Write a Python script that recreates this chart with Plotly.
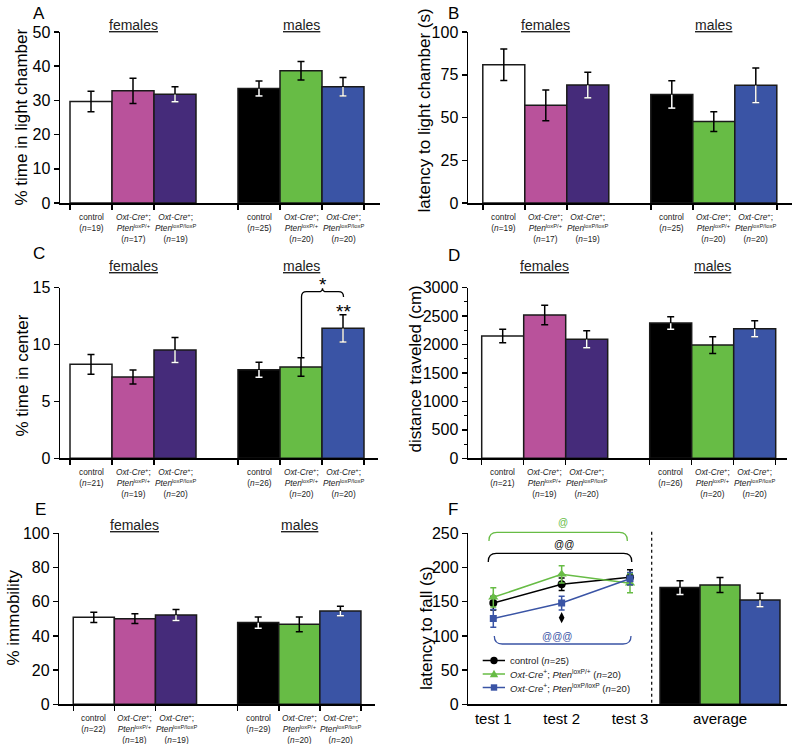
import plotly.graph_objects as go

W, H = 800, 744
FONT = "Liberation Sans, Arial, Helvetica, sans-serif"
INK = "#1a1a1a"

# ---------------- data ----------------
bar_pos = [0, 1, 2, 4, 5, 6]
bar_colors = ["#FFFFFF", "#B9529B", "#452B7A", "#000000", "#67BC45", "#3A54A5"]
lower_white = [False, False, True, True, False, True]
sex_labels = ["females", "males"]
geno_lines = [
    ["control"],
    ["<i>Oxt-Cre</i><sup>+</sup>;", "<i>Pten</i><sup>loxP/+</sup>"],
    ["<i>Oxt-Cre</i><sup>+</sup>;", "<i>Pten</i><sup>loxP/loxP</sup>"],
] * 2

A_mean = [29.7, 32.8, 31.8, 33.5, 38.7, 34.0]
A_sem = [3.0, 3.7, 2.2, 2.2, 2.7, 2.7]
A_n = [19, 17, 19, 25, 20, 20]

B_mean = [80.9, 57.1, 69.0, 63.5, 47.6, 68.8]
B_sem = [9.2, 9.0, 7.5, 8.0, 5.8, 10.1]
B_n = [19, 17, 19, 25, 20, 20]

C_mean = [8.26, 7.15, 9.52, 7.79, 8.03, 11.43]
C_sem = [0.86, 0.62, 1.1, 0.66, 0.82, 1.2]
C_n = [21, 19, 20, 26, 20, 20]

D_mean = [2150, 2520, 2092, 2379, 1992, 2279]
D_sem = [120, 170, 150, 111, 147, 140]
D_n = [21, 19, 20, 26, 20, 20]

E_mean = [50.9, 50.1, 52.2, 47.8, 46.8, 54.6]
E_sem = [3.0, 2.8, 3.2, 3.3, 4.3, 2.8]
E_n = [22, 18, 19, 29, 20, 20]

F_tests = ["test 1", "test 2", "test 3"]
F_ctrl = [148.0, 175.5, 185.7]
F_ctrl_sem = [10, 9, 11]
F_het = [156.4, 190.0, 177.0]
F_het_sem = [14, 12.6, 14]
F_hom = [125.5, 148.0, 183.6]
F_hom_sem = [13, 10, 9]
F_n = [25, 20, 20]
F_avg_label = "average"
F_avg = [170.6, 174.5, 152.5]
F_avg_sem = [10, 11, 10]
F_avg_colors = ["#000000", "#67BC45", "#3A54A5"]
F_avg_lower_white = [True, False, True]
F_diamond = ("test 2", 126.6)


def px_x(px):
    return px / W


def px_y(py):
    return 1 - py / H


panels = [
    dict(k=1, letter="A", mean=A_mean, sem=A_sem, n=A_n, ymax=50, dtick=10,
         title="% time in light chamber", x0=60, x1=380, yt=32, yb=203, c0=91, u=42,
         title_xy=(21, 117.5), letter_xy=(39, 14), sex_y=25),
    dict(k=2, letter="B", mean=B_mean, sem=B_sem, n=B_n, ymax=100, dtick=25,
         title="latency to light chamber (s)", x0=468, x1=792, yt=32, yb=203, c0=503.8, u=42,
         title_xy=(424.5, 111), letter_xy=(453, 14), sex_y=25),
    dict(k=3, letter="C", mean=C_mean, sem=C_sem, n=C_n, ymax=15, dtick=5,
         title="% time in center", x0=60, x1=378, yt=287.7, yb=458.3, c0=91, u=42,
         title_xy=(21.5, 376), letter_xy=(39, 254), sex_y=266),
    dict(k=4, letter="D", mean=D_mean, sem=D_sem, n=D_n, ymax=3000, dtick=500, minor=250,
         title="distance traveled (cm)", x0=468, x1=787, yt=287.7, yb=458.3, c0=502.7, u=42,
         title_xy=(414.5, 369), letter_xy=(454, 255), sex_y=266.5),
    dict(k=5, letter="E", mean=E_mean, sem=E_sem, n=E_n, ymax=100, dtick=20,
         title="% immobility", x0=59.3, x1=375, yt=533.3, yb=704.3, c0=93.8, u=41.1,
         title_xy=(12.5, 618), letter_xy=(40, 510), sex_y=525),
]

fig = go.Figure()
annotations = []
shapes = []


def txt(text, x, y, size, color="black", xanchor="center", yanchor="middle", **kw):
    d = dict(text=text, x=x, y=y, xref="paper", yref="paper", showarrow=False,
             xanchor=xanchor, yanchor=yanchor, font=dict(size=size, color=color))
    d.update(kw)
    return d


def refs(k):
    return ("x" if k == 1 else f"x{k}"), ("y" if k == 1 else f"y{k}")


def add_white_lower(xs, means, sems, flags, cw, xa, ya):
    lx, ly = [], []
    for x, m, s, f in zip(xs, means, sems, flags):
        if not f:
            continue
        lx += [x, x, None, x - cw, x + cw, None]
        ly += [m - 0.002 * m, m - s, None, m - s, m - s, None]
    fig.add_trace(go.Scatter(x=lx, y=ly, mode="lines", xaxis=xa, yaxis=ya,
                             line=dict(color="white", width=1.5), showlegend=False,
                             hoverinfo="skip"))


axis_line = dict(showline=True, linecolor="black", linewidth=1.5, showgrid=False,
                 zeroline=False, fixedrange=True, automargin=False)
TICKFONT = dict(size=16, color="black", family=FONT)

for p in panels:
    k = p["k"]
    xa, ya = refs(k)
    u, c0 = p["u"], p["c0"]
    fig.add_trace(go.Bar(
        x=bar_pos, y=p["mean"], width=1, xaxis=xa, yaxis=ya,
        marker=dict(color=bar_colors, line=dict(color=INK, width=1.5)),
        error_y=dict(type="data", array=p["sem"], color="black", thickness=1.5, width=3.5),
        showlegend=False, hoverinfo="skip"))
    add_white_lower(bar_pos, p["mean"], p["sem"], lower_white, 3.5 / u, xa, ya)

    xname = "xaxis" if k == 1 else f"xaxis{k}"
    yname = "yaxis" if k == 1 else f"yaxis{k}"
    edges = sorted(set([b - 0.5 for b in bar_pos] + [bar_pos[-1] + 0.5]))
    fig.update_layout(**{
        xname: dict(axis_line, domain=[px_x(p["x0"]), px_x(p["x1"])], anchor=ya,
                    range=[(p["x0"] - c0) / u, (p["x1"] - c0) / u],
                    tickvals=edges, showticklabels=False, ticks="outside",
                    ticklen=5, tickwidth=1.5, tickcolor="black"),
        yname: dict(axis_line, domain=[px_y(p["yb"]), px_y(p["yt"])], anchor=xa,
                    range=[0, p["ymax"]], dtick=p["dtick"], ticks="outside", ticklen=5,
                    tickwidth=1.5, tickcolor="black", tickfont=TICKFONT,
                    minor=(dict(dtick=p["minor"], ticks="outside", ticklen=3,
                                tickwidth=1, tickcolor="black") if p.get("minor") else None)),
    })
    tx, ty = p["title_xy"]
    annotations.append(txt(p["title"], px_x(tx), px_y(ty), 17, textangle=-90))
    lx, ly = p["letter_xy"]
    annotations.append(txt(p["letter"], px_x(lx), px_y(ly), 17))
    for i, s in enumerate(sex_labels):
        annotations.append(dict(text=f"<u>{s}</u>", x=bar_pos[1 + 3 * i], y=px_y(p["sex_y"]),
                                xref=xa, yref="paper", showarrow=False, xanchor="center",
                                yanchor="middle", font=dict(size=14, color="#222")))
    for bx, lines, n in zip(bar_pos, geno_lines, p["n"]):
        rows = lines + [f"(<i>n</i>={n})"]
        annotations.append(dict(text="<br>".join(rows), x=bx, y=px_y(p["yb"] + 7),
                                xref=xa, yref="paper", showarrow=False, xanchor="center",
                                yanchor="top", align="center",
                                font=dict(size=8.3, color="#222")))

# ---------------- panel F ----------------
FX0, FXD, FX1 = 468.3, 651.7, 786.7
FYT, FYB = 533.3, 704.3
step = 68.35
fig.update_layout(
    xaxis6=dict(axis_line, domain=[px_x(FX0), px_x(FXD)], anchor="y6", type="category",
                range=[-(493.3 - FX0) / step, 2 + (FXD - 630) / step],
                tickfont=dict(size=15, color="black"), ticks=""),
    xaxis7=dict(axis_line, domain=[px_x(FXD), px_x(FX1)], anchor="y6",
                range=[-(680 - FXD) / 40, 2 + (FX1 - 760) / 40],
                tickvals=[1], ticktext=[F_avg_label], ticks="",
                tickfont=dict(size=15, color="black")),
    yaxis6=dict(axis_line, domain=[px_y(FYB), px_y(FYT)], anchor="x6", range=[0, 250],
                dtick=50, ticks="outside", ticklen=5, tickwidth=1.5, tickcolor="black",
                tickfont=TICKFONT),
)
annotations.append(txt("latency to fall (s)", px_x(426), px_y(628), 17, textangle=-90))
annotations.append(txt("F", px_x(453), px_y(510), 17))

series = [
    ("control (<i>n</i>={})", F_ctrl, F_ctrl_sem, "#000000", "circle", 8),
    ("<i>Oxt-Cre</i><sup>+</sup>; <i>Pten</i><sup>loxP/+</sup> (<i>n</i>={})", F_het, F_het_sem,
     "#67BC45", "triangle-up", 9),
    ("<i>Oxt-Cre</i><sup>+</sup>; <i>Pten</i><sup>loxP/loxP</sup> (<i>n</i>={})", F_hom, F_hom_sem,
     "#3A54A5", "square", 7),
]
for (name, ys, es, col, sym, sz), n in zip(series, F_n):
    fig.add_trace(go.Scatter(
        x=F_tests, y=ys, xaxis="x6", yaxis="y6", mode="lines+markers", name=name.format(n),
        line=dict(color=col, width=1.5), marker=dict(symbol=sym, size=sz, color=col),
        error_y=dict(type="data", array=es, color=col, thickness=1.5, width=3),
        showlegend=False, hoverinfo="skip"))

fig.add_trace(go.Scatter(x=[F_diamond[0]], y=[F_diamond[1]], xaxis="x6", yaxis="y6",
                         mode="markers", marker=dict(symbol="diamond-tall", size=8, color="black"),
                         showlegend=False, hoverinfo="skip"))

avg_pos = list(range(len(F_avg)))
fig.add_trace(go.Bar(x=avg_pos, y=F_avg, width=1, xaxis="x7", yaxis="y6",
                     marker=dict(color=F_avg_colors, line=dict(color=INK, width=1.5)),
                     error_y=dict(type="data", array=F_avg_sem, color="black", thickness=1.5,
                                  width=3.5),
                     showlegend=False, hoverinfo="skip"))
add_white_lower(avg_pos, F_avg, F_avg_sem, F_avg_lower_white, 3.5 / 40, "x7", "y6")

shapes.append(dict(type="line", xref="paper", yref="paper", x0=px_x(FXD), x1=px_x(FXD),
                   y0=px_y(531.7), y1=px_y(FYB), line=dict(color="black", width=1.2, dash="dot")))


def P(x, y):
    return f"{px_x(x):.5f},{px_y(y):.5f}"


def bracket(xl, xr, yh, ye_l, ye_r, color, r=6, peak=None):
    """Bracket drawn in pixel coordinates, converted to a paper path."""
    sl = 1 if ye_l > yh else -1
    sr = 1 if ye_r > yh else -1
    d = f"M{P(xl, ye_l)} L{P(xl, yh + sl * r)} Q{P(xl, yh)} {P(xl + r, yh)} "
    if peak is not None:
        pxm, pd = peak
        d += f"L{P(pxm - 4, yh)} Q{P(pxm, yh)} {P(pxm, yh - pd)} Q{P(pxm, yh)} {P(pxm + 4, yh)} "
    d += f"L{P(xr - r, yh)} Q{P(xr, yh)} {P(xr, yh + sr * r)} L{P(xr, ye_r)}"
    return dict(type="path", path=d, xref="paper", yref="paper",
                line=dict(color=color, width=1.3))


shapes.append(bracket(489, 627.3, 532.3, 541, 541, "#67BC45", r=8))
shapes.append(bracket(488.3, 631.7, 553.3, 562, 562, "#000000", r=8))
shapes.append(bracket(494.3, 631, 644, 636, 636, "#3A54A5", r=8))
annotations += [
    txt("@", px_x(562.7), px_y(522.5), 10, "#67BC45"),
    txt("@@", px_x(564), px_y(544.3), 10, "#000000"),
    txt("@@@", px_x(557.3), px_y(636), 10, "#3A54A5"),
]

# panel C significance bracket
shapes.append(bracket(301.5, 343.5, 291.7, 357.5, 297, "#000000", r=5, peak=(322.5, 3.5)))
annotations += [
    txt("*", px_x(322.5), px_y(284), 19),
    txt("**", px_x(343.5), px_y(311), 19),
]

# manual legend for panel F
leg_rows = [660.5, 674, 687.5]
for (name, ys, es, col, sym, sz), n, ry in zip(series, F_n, leg_rows):
    shapes.append(dict(type="line", xref="paper", yref="paper", x0=px_x(482.7), x1=px_x(505),
                       y0=px_y(ry), y1=px_y(ry), line=dict(color=col, width=1.5)))
    if sym == "circle":
        shapes.append(dict(type="circle", xref="paper", yref="paper", x0=px_x(490.3),
                           x1=px_x(497.7), y0=px_y(ry - 3.7), y1=px_y(ry + 3.7),
                           fillcolor=col, line=dict(color=col, width=0)))
    elif sym == "square":
        shapes.append(dict(type="rect", xref="paper", yref="paper", x0=px_x(490.8),
                           x1=px_x(497.2), y0=px_y(ry - 3.2), y1=px_y(ry + 3.2),
                           fillcolor=col, line=dict(color=col, width=0)))
    else:
        shapes.append(dict(type="path", xref="paper", yref="paper",
                           path=f"M{P(489.8, ry + 3.3)} L{P(498.2, ry + 3.3)} L{P(494, ry - 4.2)} Z",
                           fillcolor=col, line=dict(color=col, width=0)))
    annotations.append(txt(name.format(n), px_x(507.5), px_y(ry), 9.5, "#222", xanchor="left"))

fig.update_layout(
    width=W, height=H, margin=dict(l=0, r=0, t=0, b=0, pad=0, autoexpand=False),
    paper_bgcolor="white", plot_bgcolor="rgba(0,0,0,0)",
    font=dict(family=FONT, color="black"),
    bargap=0, showlegend=False,
    annotations=annotations, shapes=shapes,
)

fig.write_html(
    "out.html",
    config={"displayModeBar": False, "staticPlot": True},
    post_script="document.body.style.margin='0px';document.body.style.padding='0px';"
                "document.documentElement.style.overflow='hidden';",
)
